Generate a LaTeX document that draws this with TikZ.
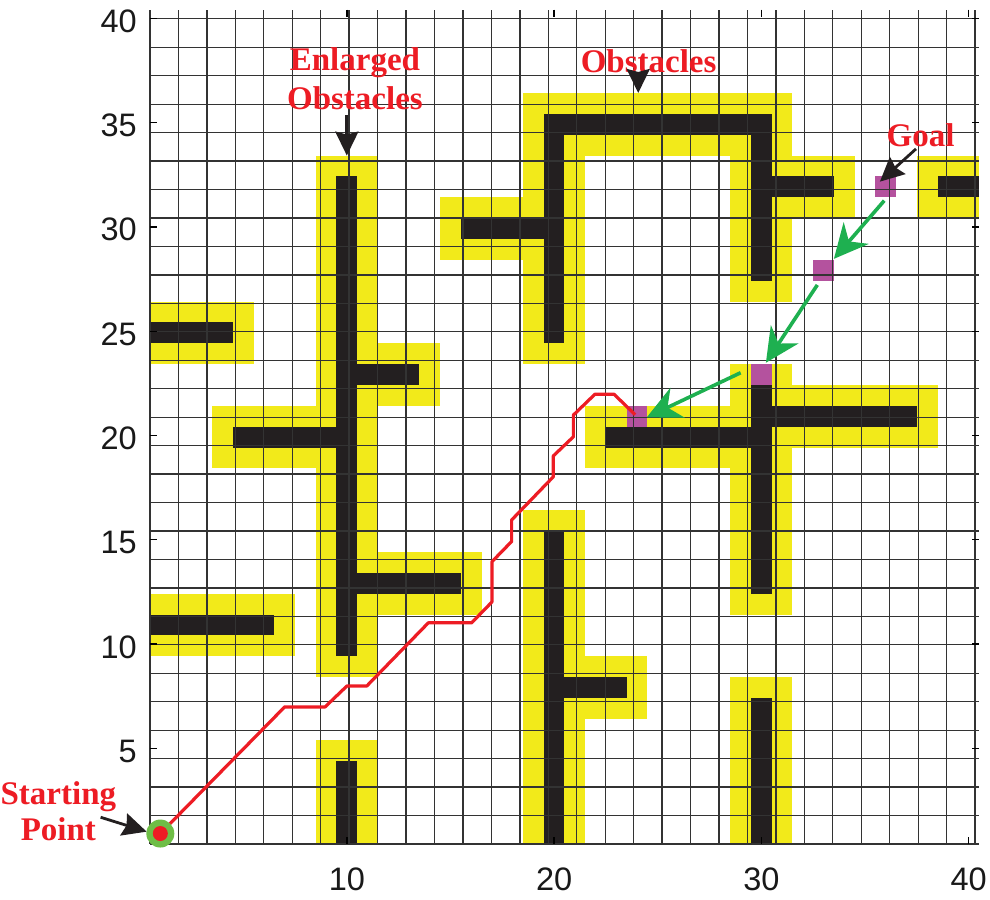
\documentclass[tikz,border=0pt]{standalone}
\usepackage{fontspec}
\setmainfont{Liberation Serif}
\newfontfamily\axisfont{Liberation Sans}
\usetikzlibrary{arrows.meta}
\definecolor{yel}{RGB}{242,234,26}
\definecolor{blk}{RGB}{35,31,32}
\definecolor{mag}{RGB}{180,82,158}
\definecolor{pathred}{RGB}{237,28,36}
\definecolor{arrgreen}{RGB}{30,176,80}
\definecolor{circgreen}{RGB}{110,190,70}
\tikzset{
  gridline/.style={draw=black!80, line width=1.3pt},
  tickline/.style={draw=black, line width=1.3pt},
  axislabel/.style={font=\axisfont\fontsize{32.5}{36}\selectfont, text=black!90, inner sep=0pt},
  redlabel/.style={font=\fontsize{33}{39}\selectfont\bfseries, text=pathred, inner sep=0pt, anchor=base},
  blackarrow/.style={draw=blk, line width=2.8pt, -{Stealth[length=24pt,width=23pt,inset=3pt]}},
  greenarrow/.style={draw=arrgreen, line width=3.6pt, -{Stealth[length=34pt,width=33pt,inset=11pt]}},
  pathline/.style={draw=pathred, line width=3.2pt, line join=round}
}
\begin{document}
\begin{tikzpicture}[x=20.725pt,y=20.86pt]
\useasboundingbox (-6.736,-2.186) rectangle (41.033,40.959);
\fill[white] (-6.736,-2.186) rectangle (41.033,40.959);
% enlarged obstacles
\foreach \a/\b/\c/\d in {9/11/9/33, 1/5/24/26, 4/10/19/21, 10/14/22/24, 10/16/12/14, 1/7/10/12, 9/11/1/5,
  19/31/34/36, 19/21/24/35, 15/20/29/31, 29/31/27/35, 30/34/31/33, 38/40/31/33,
  22/30/19/21, 29/31/12/23, 30/38/20/22, 19/21/1/16, 20/24/7/9, 29/31/1/8}
  {\fill[yel] ({\a-0.5},{\c-0.5}) rectangle ({\b+0.5},{\d+0.5});}
% obstacles
\foreach \a/\b/\c/\d in {10/10/10/32, 1/4/25/25, 5/9/20/20, 11/13/23/23, 11/15/13/13, 1/6/11/11, 10/10/1/4,
  20/30/35/35, 20/20/25/34, 16/19/30/30, 30/30/28/34, 31/33/32/32, 39/40/32/32,
  23/29/20/20, 30/30/13/22, 31/37/21/21, 20/20/1/15, 21/23/8/8, 30/30/1/7}
  {\fill[blk] ({\a-0.5},{\c-0.5}) rectangle ({\b+0.5},{\d+0.5});}
% goal and waypoints
\foreach \a/\c in {36/32, 33/28, 30/23, 24/21}
  {\fill[mag] ({\a-0.5},{\c-0.5}) rectangle ({\a+0.5},{\c+0.5});}
% grid
\draw[gridline, shift={(0.5,0.5)}] (0,0) grid (40,40);
% ticks
\foreach \k in {10,20,30,40}{
  \draw[tickline] (\k,0.5) -- (\k,0.84);
  \draw[tickline] (\k,40.5) -- (\k,40.16);
  \node[axislabel, anchor=north] (xl\k) at (\k,-0.65) {\k};
}
\foreach \k in {5,10,...,40}{
  \draw[tickline] (0.5,\k+0.08) -- (0.84,\k+0.08);
  \draw[tickline] (40.5,\k+0.08) -- (40.16,\k+0.08);
  \node[axislabel, anchor=east] (yl\k) at (-0.13,\k-0.05) {\k};
}
% path
\coordinate (start) at (1,1);
\coordinate (end) at (23.91,21.08);
\draw[pathline] (start) -- (7,7.07) -- (8.95,7.07) -- (10,8.07) -- (10.96,8.07) -- (13.93,11.1) -- (16.02,11.1)
  -- (17,12.1) -- (17,14.03) -- (17.95,15) -- (17.95,16.03) -- (19.96,18.1) -- (19.96,19.1)
  -- (20.93,20.02) -- (20.93,21.06) -- (21.97,22.06) -- (22.89,22.06) -- (end);
% start marker
\fill[circgreen] (start) circle (14pt);
\fill[pathred] (start) circle (7.5pt);
% labels
\node[redlabel] (enlA) at (10.39,37.57) {Enlarged};
\node[redlabel] (enlB) at (10.39,35.69) {Obstacles};
\node[redlabel] (obs) at (24.56,37.47) {Obstacles};
\node[redlabel] (goal) at (37.68,33.95) {Goal};
\node[redlabel] (stA) at (-3.92,2.37) {Starting};
\node[redlabel] (stB) at (-3.92,0.66) {Point};
% arrow coordinates
\coordinate (enlS) at (10,35.45);
\coordinate (enlT) at (10,33.5);
\coordinate (obsS) at (24.06,37.45);
\coordinate (obsT) at (24.06,36.5);
\coordinate (goalS) at (37.46,33.82);
\coordinate (goalT) at (35.72,32.25);
\coordinate (stS) at (-1.88,1.78);
\coordinate (stT) at (0.34,1.09);
\coordinate (g1S) at (35.93,31.34);
\coordinate (g1T) at (33.5,28.55);
\coordinate (g2S) at (32.70,27.30);
\coordinate (g2T) at (30.22,23.57);
\coordinate (g3S) at (29.0,23.09);
\coordinate (g3T) at (24.47,20.95);
\draw[blackarrow] (enlS) -- (enlT);
\draw[blackarrow] (obsS) -- (obsT);
\draw[blackarrow] (goalS) -- (goalT);
\draw[blackarrow] (stS) -- (stT);
\draw[greenarrow] (g1S) -- (g1T);
\draw[greenarrow] (g2S) -- (g2T);
\draw[greenarrow] (g3S) -- (g3T);
\end{tikzpicture}
\end{document}
